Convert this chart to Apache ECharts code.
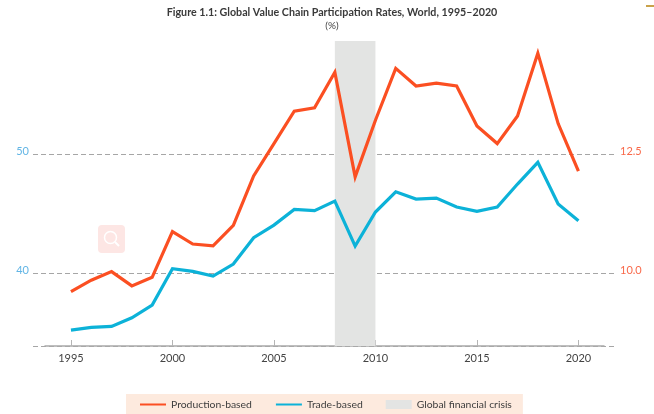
<!DOCTYPE html>
<html>
<head>
<meta charset="utf-8">
<style>
  html, body { margin: 0; padding: 0; background: #fff; }
  #chart { width: 654px; height: 414px; }
</style>
<script src="https://cdn.jsdelivr.net/npm/echarts@6/dist/echarts.min.js"></script>
</head>
<body>
<div id="chart"></div>
<script>
var years = [1995, 1996, 1997, 1998, 1999, 2000, 2001, 2002, 2003, 2004, 2005, 2006, 2007,
  2008, 2009, 2010, 2011, 2012, 2013, 2014, 2015, 2016, 2017, 2018, 2019, 2020]
// read against the right hand axis
var productionBased = [9.61, 9.85, 10.03, 9.73, 9.91, 10.87, 10.61, 10.57, 11.0, 12.04, 12.72, 13.40, 13.47,
  14.22, 12.02, 13.21, 14.30, 13.93, 13.99, 13.93, 13.09, 12.72, 13.30, 14.62, 13.14, 12.14]
// read against the left hand axis
var tradeBased = [35.21, 35.44, 35.52, 36.24, 37.31, 40.36, 40.14, 39.75, 40.76, 42.97, 44.03, 45.34, 45.24,
  46.05, 42.27, 45.13, 46.83, 46.22, 46.30, 45.55, 45.18, 45.55, 47.48, 49.30, 45.80, 44.40]
var crisisYears = [2008, 2010]
var xTicks = [1995, 2000, 2005, 2010, 2015, 2020]
var leftTicks = [40, 50]
var rightTicks = [10, 12.5]

var leftMin = 33.87, leftMax = 59.5
var rightMin = 8.4675, rightMax = 14.875

var fontName = 'Lato'
var chart = echarts.init(document.getElementById('chart'))

function pairs(values) {
  return years.map(function (y, i) { return [y, values[i]] })
}

chart.setOption({
  animation: false,
  backgroundColor: '#fff',
  textStyle: { fontFamily: fontName },
  title: [{
    text: 'Figure 1.1: Global Value Chain Participation Rates, World, 1995–2020',
    left: 327,
    top: 2,
    textAlign: 'center',
    textStyle: { fontFamily: fontName, fontSize: 10.7, fontWeight: 'bold', color: '#3a3a3a' }
  }, {
    text: '(%)',
    left: 327,
    top: 16,
    textAlign: 'center',
    textStyle: { fontFamily: fontName, fontSize: 10, fontWeight: 'normal', color: '#444' }
  }],
  legend: {
    top: 394,
    left: 126,
    padding: [5.5, 11, 5.5, 13],
    backgroundColor: '#fdeade',
    itemWidth: 26,
    itemHeight: 9,
    itemGap: 23,
    textStyle: { fontFamily: fontName, fontSize: 10.4, color: '#3d3d3d' },
    data: [
      { name: 'Production-based', itemStyle: { opacity: 0 } },
      { name: 'Trade-based', itemStyle: { opacity: 0 } },
      { name: 'Global financial crisis', icon: 'rect' }
    ]
  },
  grid: [
    { left: 33, right: 37, top: 41, height: 305 },
    { left: 45, right: 50, top: 41, height: 305 }
  ],
  xAxis: [{
    gridIndex: 0,
    type: 'value',
    min: 1993.13,
    max: 2021.9,
    show: false
  }, {
    gridIndex: 1,
    type: 'value',
    min: 1993.72,
    max: 2021.26,
    splitLine: { show: false },
    axisLine: { show: true, onZero: false, lineStyle: { color: '#a9a9a9', width: 1.5 } },
    axisTick: { show: true, inside: true, length: 6, customValues: xTicks, lineStyle: { color: '#b5b5b5', width: 1 } },
    axisLabel: {
      customValues: xTicks,
      margin: 7,
      fontSize: 11,
      fontFamily: fontName,
      color: '#444',
      formatter: function (v) { return String(v) }
    }
  }],
  yAxis: [{
    gridIndex: 0,
    type: 'value',
    position: 'left',
    min: leftMin,
    max: leftMax,
    axisLine: { show: false },
    axisTick: { show: false, customValues: [leftMin].concat(leftTicks) },
    splitLine: { show: true, lineStyle: { color: '#a6a6a6', type: [5, 3], width: 1 } },
    axisLabel: {
      customValues: leftTicks,
      margin: 4,
      fontSize: 11,
      fontFamily: fontName,
      color: '#62b5e5',
      verticalAlign: 'bottom',
      lineHeight: 6
    }
  }, {
    gridIndex: 0,
    type: 'value',
    position: 'right',
    min: rightMin,
    max: rightMax,
    axisLine: { show: false },
    axisTick: { show: false, customValues: rightTicks },
    splitLine: { show: false },
    axisLabel: {
      customValues: rightTicks,
      margin: 3,
      fontSize: 11,
      fontFamily: fontName,
      color: '#f9694a',
      verticalAlign: 'bottom',
      lineHeight: 6,
      formatter: function (v) { return v.toFixed(1) }
    }
  }, {
    gridIndex: 1,
    type: 'value',
    show: false
  }],
  series: [{
    name: 'Global financial crisis',
    type: 'line',
    xAxisIndex: 0,
    yAxisIndex: 0,
    data: [],
    symbol: 'none',
    itemStyle: { color: '#e3e4e3' },
    markArea: {
      silent: true,
      itemStyle: { color: '#e3e4e3' },
      data: [[{ xAxis: crisisYears[0], yAxis: leftMin }, { xAxis: crisisYears[1], yAxis: leftMax }]]
    },
    z: 1
  }, {
    name: 'Production-based',
    type: 'line',
    xAxisIndex: 0,
    yAxisIndex: 1,
    data: pairs(productionBased),
    symbol: 'none',
    lineStyle: { color: '#fb4f22', width: 3.2, join: 'miter' },
    itemStyle: { color: '#fb4f22' },
    z: 3
  }, {
    name: 'Trade-based',
    type: 'line',
    xAxisIndex: 0,
    yAxisIndex: 0,
    data: pairs(tradeBased),
    symbol: 'none',
    lineStyle: { color: '#0cb2d8', width: 3.2, join: 'miter' },
    itemStyle: { color: '#0cb2d8' },
    z: 3
  }],
  graphic: [
    // pale search badge sitting over the plot
    { type: 'rect', z: 5, shape: { x: 98, y: 225, width: 27, height: 28, r: 4 }, style: { fill: '#fde6e4' } },
    { type: 'circle', z: 6, shape: { cx: 110.5, cy: 237.5, r: 6 }, style: { fill: 'none', stroke: '#fff', lineWidth: 1.5 } },
    { type: 'line', z: 6, shape: { x1: 115, y1: 242, x2: 119, y2: 246 }, style: { stroke: '#fff', lineWidth: 2 } },
    // page mark in the top corner
    { type: 'rect', z: 5, shape: { x: 646, y: 5, width: 8, height: 2 }, style: { fill: '#c9a24a' } }
  ]
})
</script>
</body>
</html>
